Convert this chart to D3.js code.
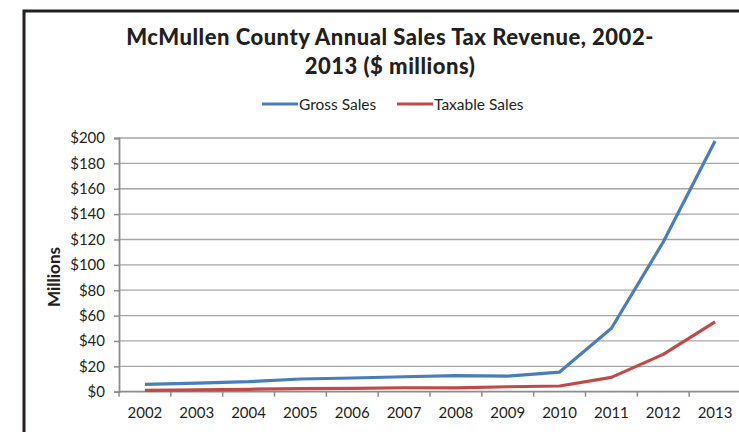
<!DOCTYPE html>
<html>
<head>
<meta charset="utf-8">
<script src="https://cdn.jsdelivr.net/npm/d3@7"></script>
<style>
  html, body { margin: 0; padding: 0; background: #fff; }
  svg { display: block; }
</style>
</head>
<body>
<svg id="chart" width="739" height="432"></svg>
<script>
// Annual sales tax revenue, $ millions
const years = ["2002","2003","2004","2005","2006","2007","2008","2009","2010","2011","2012","2013"];
const grossSales = [5.8, 6.8, 7.9, 10.0, 10.8, 11.8, 12.6, 12.3, 15.5, 50.0, 118.0, 197.6];
const taxableSales = [1.1, 1.5, 1.9, 2.4, 2.6, 3.1, 3.0, 3.9, 4.5, 11.3, 29.4, 55.0];
const yTicks = [0, 20, 40, 60, 80, 100, 120, 140, 160, 180, 200];
const seriesNames = ["Gross Sales", "Taxable Sales"];
const seriesColors = ["#4a7ebb", "#be4b48"];

const font = "Lato, 'Open Sans', sans-serif";
const ink = "#231f20";
const svg = d3.select("#chart");

// outer frame
svg.append("rect")
  .attr("x", 24).attr("y", 11)
  .attr("width", 760).attr("height", 460)
  .attr("fill", "none").attr("stroke", ink).attr("stroke-width", 3);

const plot = { left: 119, right: 741, top: 138, bottom: 391.7 };

const x = d3.scaleBand().domain(years).range([plot.left, plot.right]);
const y = d3.scaleLinear().domain([0, 200]).range([plot.bottom, plot.top]);

// horizontal gridlines
svg.append("g")
  .selectAll("line")
  .data(yTicks.filter(d => d > 0))
  .join("line")
  .attr("x1", plot.left).attr("x2", 739)
  .attr("y1", d => y(d)).attr("y2", d => y(d))
  .attr("stroke", "#a6a6a6").attr("stroke-width", 1.3);

// y axis
const yAxis = svg.append("g")
  .attr("transform", `translate(${plot.left},0)`)
  .call(d3.axisLeft(y).tickValues(yTicks).tickSize(5).tickPadding(9).tickFormat(d => "$" + d));
yAxis.select(".domain").attr("stroke", "#8c8c8c").attr("stroke-width", 1.8);
yAxis.selectAll(".tick line").attr("stroke", "#8c8c8c").attr("stroke-width", 1.5);
yAxis.selectAll(".tick text")
  .attr("font-family", font).attr("font-size", 15).attr("fill", ink);

// x axis with ticks on category boundaries
const xAxisG = svg.append("g").attr("transform", `translate(0,${plot.bottom})`);
xAxisG.append("line")
  .attr("x1", plot.left).attr("x2", 739)
  .attr("y1", 0).attr("y2", 0)
  .attr("stroke", "#8c8c8c").attr("stroke-width", 1.8);
xAxisG.selectAll("line.tk")
  .data(years)
  .join("line")
  .attr("class", "tk")
  .attr("x1", d => x(d)).attr("x2", d => x(d))
  .attr("y1", 0).attr("y2", 5)
  .attr("stroke", "#8c8c8c").attr("stroke-width", 1.5);
xAxisG.selectAll("text")
  .data(years)
  .join("text")
  .attr("x", d => x(d) + x.bandwidth() / 2)
  .attr("y", 26)
  .attr("text-anchor", "middle")
  .attr("font-family", font).attr("font-size", 15).attr("fill", ink)
  .text(d => d);

// series lines
const line = d3.line()
  .x((d, i) => x(years[i]) + x.bandwidth() / 2)
  .y(d => y(d));
[grossSales, taxableSales].forEach((vals, k) => {
  svg.append("path")
    .datum(vals)
    .attr("fill", "none")
    .attr("stroke", seriesColors[k])
    .attr("stroke-width", 3.2)
    .attr("stroke-linejoin", "round")
    .attr("d", line);
});

// y axis title
svg.append("text")
  .attr("transform", "translate(60,277) rotate(-90)")
  .attr("text-anchor", "middle")
  .attr("font-family", font).attr("font-weight", "bold").attr("font-size", 17)
  .attr("fill", ink)
  .text("Millions");

// title, two lines
const title = svg.append("text")
  .attr("text-anchor", "middle")
  .attr("font-family", font).attr("font-weight", 900).attr("font-size", 22)
  .attr("letter-spacing", 0.5)
  .attr("fill", ink);
title.append("tspan").attr("x", 390).attr("y", 45).text("McMullen County Annual Sales Tax Revenue, 2002-");
title.append("tspan").attr("x", 390).attr("y", 74).text("2013 ($ millions)");

// legend
const legendItems = [
  { name: seriesNames[0], color: seriesColors[0], x: 262 },
  { name: seriesNames[1], color: seriesColors[1], x: 397 }
];
const lg = svg.append("g").selectAll("g").data(legendItems).join("g");
lg.append("line")
  .attr("x1", d => d.x).attr("x2", d => d.x + 36)
  .attr("y1", 104).attr("y2", 104)
  .attr("stroke", d => d.color).attr("stroke-width", 3.2);
lg.append("text")
  .attr("x", d => d.x + 37).attr("y", 109.5)
  .attr("font-family", font).attr("font-size", 15.5).attr("fill", ink)
  .text(d => d.name);
</script>
</body>
</html>
